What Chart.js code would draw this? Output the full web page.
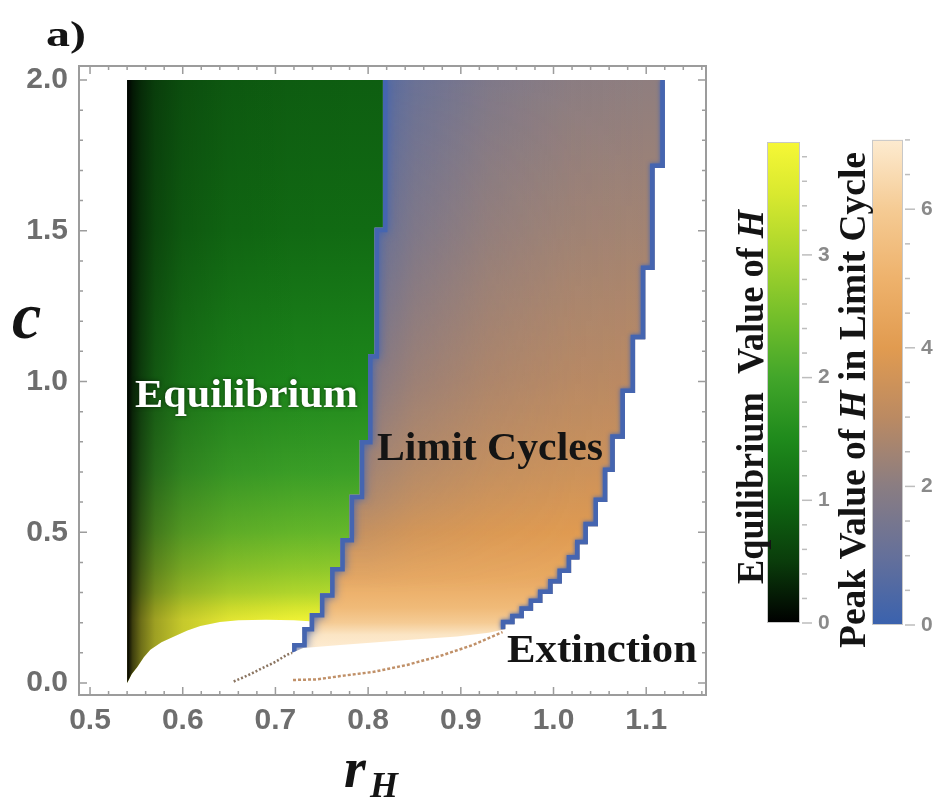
<!DOCTYPE html>
<html>
<head>
<meta charset="utf-8">
<script src="https://cdn.jsdelivr.net/npm/chart.js@4.4.0/dist/chart.umd.min.js"></script>
<style>
  html, body { margin: 0; padding: 0; background: #fff; }
  canvas { display: block; }
</style>
</head>
<body>
<canvas id="chart" width="942" height="804"></canvas>
<script>
// axis ticks
const xTicks = [0.5, 0.6, 0.7, 0.8, 0.9, 1.0, 1.1];
const yTicks = [0.0, 0.5, 1.0, 1.5, 2.0];
const eqTicks = [0, 1, 2, 3];
const peakTicks = [0, 2, 4, 6];

// region limits
const rHMin = 0.54;
const cMax = 2.0;

// equilibrium / limit cycle border (the staircase on the left)
const hopfR = [0.816, 0.816, 0.807, 0.807, 0.800, 0.800, 0.791, 0.791, 0.780, 0.780, 0.770, 0.770,
  0.759, 0.759, 0.748, 0.748, 0.737, 0.737, 0.729, 0.729, 0.718, 0.718];
const hopfC = [2.0, 1.51, 1.51, 1.09, 1.09, 0.806, 0.806, 0.624, 0.624, 0.481, 0.481, 0.385,
  0.385, 0.298, 0.298, 0.232, 0.232, 0.186, 0.186, 0.133, 0.133, 0.10];

// limit cycle / extinction border (the staircase on the right)
const foldR = [1.120, 1.120, 1.109, 1.109, 1.099, 1.099, 1.088, 1.088, 1.077, 1.077, 1.066, 1.066,
  1.058, 1.058, 1.048, 1.048, 1.037, 1.037, 1.028, 1.028, 1.019, 1.019, 1.009, 1.009,
  0.999, 0.999, 0.988, 0.988, 0.978, 0.978, 0.968, 0.968, 0.958, 0.958, 0.948, 0.948];
const foldC = [2.0, 1.708, 1.708, 1.37, 1.37, 1.14, 1.14, 0.962, 0.962, 0.81, 0.81, 0.70,
  0.70, 0.60, 0.60, 0.52, 0.52, 0.46, 0.46, 0.41, 0.41, 0.365, 0.365, 0.33,
  0.33, 0.295, 0.295, 0.265, 0.265, 0.24, 0.24, 0.215, 0.215, 0.195, 0.195, 0.178];

// lower edge of the equilibrium region
const eqBaseR = [0.737, 0.72, 0.69, 0.66, 0.64, 0.619, 0.605, 0.59, 0.577, 0.565, 0.558, 0.551, 0.545, 0.54];
const eqBaseC = [0.205, 0.208, 0.21, 0.208, 0.202, 0.189, 0.174, 0.153, 0.135, 0.11, 0.085, 0.053, 0.03, 0.0];

// lower edge of the limit cycle region
const lcBaseR = [0.93, 0.896, 0.842, 0.77, 0.73, 0.718];
const lcBaseC = [0.167, 0.154, 0.143, 0.126, 0.116, 0.10];

// thin dotted extinction curves
const ext1R = [0.655, 0.67, 0.685, 0.70, 0.712, 0.718];
const ext1C = [0.005, 0.025, 0.048, 0.07, 0.093, 0.10];
const ext2R = [0.719, 0.745, 0.77, 0.806, 0.842, 0.878, 0.913, 0.945];
const ext2C = [0.010, 0.012, 0.023, 0.037, 0.06, 0.09, 0.126, 0.169];

// H value along c inside each region (read via the colour bars)
const eqLevelC = [2.0, 1.5, 1.0, 0.7, 0.5, 0.38, 0.3, 0.25, 0.21, 0.0];
const eqLevelH = [0.9, 1.05, 1.45, 1.9, 2.35, 2.75, 3.1, 3.5, 3.85, 3.92];
const lcLevelC = [2.0, 1.5, 1.0, 0.7, 0.5, 0.35, 0.25, 0.2, 0.16, 0.12];
const lcLevelH = [2.1, 2.5, 3.0, 3.5, 4.0, 4.6, 5.3, 6.0, 6.8, 7.0];

// colour maps
const eqStops = [[0, '#000000'], [0.5, '#0a3c0b'], [1, '#0f6712'], [1.5, '#1f8a1c'], [2, '#42a62a'],
  [2.5, '#74bf2a'], [3, '#a9d52c'], [3.5, '#d9e92f'], [3.92, '#f6f736']];
const peakStops = [[0, '#3a62ae'], [1, '#65709a'], [2, '#8a7d82'], [3, '#bb8a62'], [4, '#e19b50'],
  [5, '#eeb26c'], [6, '#f5cb94'], [7, '#fdebd0']];

const serif = '"Liberation Serif", "DejaVu Serif", serif';
const sans = '"Liberation Sans", Arial, sans-serif';
const tickGrey = '#6e6e6e';
const frameGrey = '#9c9c9c';
const edgeBlue = '#4565b0';

const pts = (rs, cs) => rs.map((r, i) => ({ x: r, y: cs[i] }));
const hopfLine = pts(hopfR, hopfC);
const foldLine = pts(foldR, foldC);
const eqShape = [{ x: rHMin, y: cMax }, ...hopfLine.filter(p => p.y > eqBaseC[0]), ...pts(eqBaseR, eqBaseC)];
const lcShape = [...foldLine, ...pts(lcBaseR, lcBaseC), ...hopfLine.slice().reverse()];

function hex(c) {
  return [1, 3, 5].map(i => parseInt(c.slice(i, i + 2), 16));
}

function colourAt(stops, v) {
  let i = 1;
  while (i < stops.length - 1 && v > stops[i][0]) i++;
  const [v0, c0] = stops[i - 1];
  const [v1, c1] = stops[i];
  const t = Math.min(1, Math.max(0, (v - v0) / (v1 - v0)));
  const a = hex(c0), b = hex(c1);
  return 'rgb(' + a.map((x, k) => Math.round(x + (b[k] - x) * t)).join(',') + ')';
}

// vertical gradient through the c levels
function levelGradient(chart, levelC, levelH, stops) {
  const { ctx, chartArea, scales } = chart;
  if (!chartArea) return 'rgba(0,0,0,0)';
  const y = scales.y;
  const top = y.getPixelForValue(levelC[0]);
  const bot = y.getPixelForValue(levelC[levelC.length - 1]);
  const g = ctx.createLinearGradient(0, top, 0, bot);
  levelC.forEach((c, i) => g.addColorStop((y.getPixelForValue(c) - top) / (bot - top), colourAt(stops, levelH[i])));
  return g;
}

function alongX(ctx, scale, stops, rgb) {
  const x0 = scale.getPixelForValue(stops[0][0]);
  const x1 = scale.getPixelForValue(stops[stops.length - 1][0]);
  const g = ctx.createLinearGradient(x0, 0, x1, 0);
  stops.forEach(([r, a]) => g.addColorStop((scale.getPixelForValue(r) - x0) / (x1 - x0), 'rgba(' + rgb + ',' + a + ')'));
  return g;
}

// 2d tint: horizontal alpha ramp masked by a vertical one
function tintPattern(chart, rgb, across, down) {
  const { chartArea, scales, width, height } = chart;
  if (!chartArea) return 'rgba(0,0,0,0)';
  const off = document.createElement('canvas');
  off.width = width;
  off.height = height;
  const g = off.getContext('2d');
  g.fillStyle = alongX(g, scales.x, across, rgb);
  g.fillRect(0, 0, width, height);
  const y0 = scales.y.getPixelForValue(down[0][0]);
  const y1 = scales.y.getPixelForValue(down[down.length - 1][0]);
  const vg = g.createLinearGradient(0, y0, 0, y1);
  down.forEach(([c, a]) => vg.addColorStop((scales.y.getPixelForValue(c) - y0) / (y1 - y0), 'rgba(0,0,0,' + a + ')'));
  g.globalCompositeOperation = 'destination-in';
  g.fillStyle = vg;
  g.fillRect(0, 0, width, height);
  return chart.ctx.createPattern(off, 'no-repeat');
}

// clip edge lines to the limit cycle region and give them a soft glow
const regionMask = {
  id: 'regionMask',
  beforeDatasetDraw(chart, args) {
    const ds = chart.data.datasets[args.index];
    if (ds.maskTo === undefined) return;
    const points = chart.getDatasetMeta(ds.maskTo).data;
    const ctx = chart.ctx;
    ctx.save();
    ctx.beginPath();
    points.forEach((p, i) => (i ? ctx.lineTo(p.x, p.y) : ctx.moveTo(p.x, p.y)));
    ctx.closePath();
    ctx.clip();
    ctx.shadowColor = ds.borderColor;
    ctx.shadowBlur = ds.glow || 0;
  },
  afterDatasetDraw(chart, args) {
    if (chart.data.datasets[args.index].maskTo !== undefined) chart.ctx.restore();
  }
};

function fitText(ctx, text, x, y, width, font, colour, shadow) {
  ctx.save();
  ctx.font = font;
  ctx.fillStyle = colour;
  ctx.textAlign = 'left';
  ctx.textBaseline = 'alphabetic';
  if (shadow) {
    ctx.shadowColor = shadow;
    ctx.shadowBlur = 4;
  }
  const k = width / ctx.measureText(text).width;
  ctx.translate(x, y);
  ctx.scale(k, 1);
  ctx.fillText(text, 0, 0);
  ctx.restore();
}

function sideLabel(ctx, parts, x, yStart, yEnd) {
  ctx.save();
  let total = 0;
  parts.forEach(p => {
    ctx.font = p.font;
    p.w = ctx.measureText(p.text).width;
    total += p.w;
  });
  ctx.translate(x, yStart);
  ctx.rotate(-Math.PI / 2);
  ctx.scale((yStart - yEnd) / total, 1);
  ctx.fillStyle = '#141414';
  ctx.textBaseline = 'alphabetic';
  let pos = 0;
  parts.forEach(p => {
    ctx.font = p.font;
    ctx.fillText(p.text, pos, 0);
    pos += p.w;
  });
  ctx.restore();
}

function colourBar(ctx, bar, stops, labels, minorStep) {
  const py = v => bar.y0 - v * bar.ppu;
  const g = ctx.createLinearGradient(0, py(0), 0, py(bar.top));
  stops.forEach(([v, c]) => g.addColorStop(Math.min(1, v / bar.top), c));
  ctx.fillStyle = g;
  ctx.fillRect(bar.x, py(bar.top), bar.w, bar.top * bar.ppu);
  ctx.strokeStyle = '#c8c8c8';
  ctx.lineWidth = 1;
  ctx.strokeRect(bar.x + 0.5, py(bar.top) + 0.5, bar.w - 1, bar.top * bar.ppu - 1);
  ctx.strokeStyle = '#bdbdbd';
  ctx.lineWidth = 1.5;
  const n = Math.floor(bar.top / minorStep + 1e-6);
  for (let i = 0; i <= n; i++) {
    const v = i * minorStep;
    const major = labels.some(l => Math.abs(l - v) < 1e-6);
    ctx.beginPath();
    ctx.moveTo(bar.x + bar.w + 2, py(v));
    ctx.lineTo(bar.x + bar.w + (major ? 12 : 7), py(v));
    ctx.stroke();
  }
  ctx.fillStyle = '#8a8a8a';
  ctx.font = 'bold 21px ' + sans;
  ctx.textAlign = 'left';
  ctx.textBaseline = 'middle';
  labels.forEach(l => ctx.fillText(String(l), bar.x + bar.w + 18, py(l)));
}

const frameAndLabels = {
  id: 'frameAndLabels',
  afterDraw(chart) {
    const { ctx, chartArea: a, scales: { x, y } } = chart;
    ctx.save();
    ctx.strokeStyle = frameGrey;
    ctx.lineWidth = 1.5;
    for (let i = 24; i <= 58; i++) {
      const v = i / 50;
      if (v < x.min || v > x.max) continue;
      const px = x.getPixelForValue(v);
      const len = i % 5 === 0 ? 8 : 4;
      ctx.beginPath();
      ctx.moveTo(px, a.bottom); ctx.lineTo(px, a.bottom - len);
      ctx.moveTo(px, a.top); ctx.lineTo(px, a.top + len);
      ctx.stroke();
    }
    for (let i = 0; i <= 20; i++) {
      const v = i / 10;
      const py = y.getPixelForValue(v);
      const len = i % 5 === 0 ? 8 : 4;
      ctx.beginPath();
      ctx.moveTo(a.left, py); ctx.lineTo(a.left + len, py);
      ctx.moveTo(a.right, py); ctx.lineTo(a.right - len, py);
      ctx.stroke();
    }
    ctx.lineWidth = 2;
    ctx.strokeRect(a.left, a.top, a.right - a.left, a.bottom - a.top);
    ctx.restore();

    fitText(ctx, 'Equilibrium', 135, 407, 223, 'bold 41px ' + serif, '#ffffff', 'rgba(0,0,0,0.55)');
    fitText(ctx, 'Limit Cycles', 377, 460, 226, 'bold 41px ' + serif, '#141414');
    fitText(ctx, 'Extinction', 507, 662, 190, 'bold 41px ' + serif, '#141414');
    fitText(ctx, 'a)', 46, 46, 40, 'bold 36px ' + serif, '#141414');

    ctx.save();
    ctx.fillStyle = '#141414';
    ctx.textBaseline = 'alphabetic';
    ctx.font = 'bold italic 66px ' + serif;
    ctx.fillText('c', 12, 338);
    ctx.font = 'bold italic 56px ' + serif;
    ctx.fillText('r', 344, 787);
    ctx.font = 'bold italic 36px ' + serif;
    ctx.fillText('H', 370, 797);
    ctx.restore();

    colourBar(ctx, { x: 767, w: 33, y0: 623, ppu: 122.7, top: 3.92 }, eqStops, eqTicks, 0.2);
    colourBar(ctx, { x: 872, w: 31, y0: 625, ppu: 69.3, top: 7 }, peakStops, peakTicks, 0.5);

    sideLabel(ctx, [
      { text: 'Equilibrium  Value of ', font: 'bold 37px ' + serif },
      { text: 'H', font: 'bold italic 37px ' + serif }
    ], 763, 584, 210);
    sideLabel(ctx, [
      { text: 'Peak Value of ', font: 'bold 37px ' + serif },
      { text: 'H', font: 'bold italic 37px ' + serif },
      { text: ' in Limit Cycle', font: 'bold 37px ' + serif }
    ], 865, 648, 152);
  }
};

const tickFont = { family: sans, size: 30, weight: 'bold' };
const none = 'rgba(0,0,0,0)';

const chart = new Chart(document.getElementById('chart'), {
  type: 'line',
  data: {
    datasets: [
      {
        data: eqShape,
        fill: 'shape',
        borderWidth: 0,
        borderColor: none,
        backgroundColor: c => levelGradient(c.chart, eqLevelC, eqLevelH, eqStops),
        order: 10
      },
      {
        data: eqShape,
        fill: 'shape',
        borderWidth: 0,
        borderColor: none,
        backgroundColor: c => c.chart.chartArea ? alongX(c.chart.ctx, c.chart.scales.x,
          [[0.54, 1], [0.546, 0.75], [0.555, 0.55], [0.57, 0.35], [0.6, 0.18], [0.65, 0.07], [0.72, 0.02], [0.8, 0]],
          '0,0,0') : none,
        order: 9
      },
      {
        data: lcShape,
        fill: 'shape',
        borderWidth: 0,
        borderColor: none,
        backgroundColor: c => levelGradient(c.chart, lcLevelC, lcLevelH, peakStops),
        order: 8
      },
      {
        data: lcShape,
        fill: 'shape',
        borderWidth: 0,
        borderColor: none,
        backgroundColor: c => tintPattern(c.chart, '62,98,176',
          [[0.80, 0.8], [0.85, 0.45], [0.93, 0.2], [1.02, 0.05], [1.1, 0]],
          [[2.0, 1], [1.5, 0.8], [1.0, 0.55], [0.6, 0.3], [0.4, 0.1], [0.3, 0]]),
        order: 7
      },
      {
        data: hopfLine,
        borderColor: edgeBlue,
        borderWidth: 9,
        borderJoinStyle: 'miter',
        maskTo: 2,
        glow: 10,
        order: 6
      },
      {
        data: foldLine,
        borderColor: edgeBlue,
        borderWidth: 9,
        borderJoinStyle: 'miter',
        maskTo: 2,
        glow: 4,
        order: 5
      },
      {
        data: pts(ext1R, ext1C),
        borderColor: '#8a7460',
        borderWidth: 2.5,
        borderDash: [2, 2],
        order: 4
      },
      {
        data: pts(ext2R, ext2C),
        borderColor: '#c09068',
        borderWidth: 2.5,
        borderDash: [3, 2],
        order: 3
      }
    ]
  },
  options: {
    responsive: false,
    animation: false,
    events: [],
    layout: { padding: { top: 66, right: 236, left: 0, bottom: 0 } },
    elements: { point: { radius: 0 }, line: { tension: 0 } },
    plugins: { legend: { display: false }, tooltip: { enabled: false } },
    scales: {
      x: {
        type: 'linear',
        min: 0.4881,
        max: 1.1645,
        afterBuildTicks: s => { s.ticks = xTicks.map(v => ({ value: v })); },
        afterFit: s => { s.height = 109; },
        grid: { display: false, drawTicks: false },
        border: { display: false },
        ticks: { padding: 8, font: tickFont, color: tickGrey, maxRotation: 0, autoSkip: false,
          callback: v => Number(v).toFixed(1) }
      },
      y: {
        type: 'linear',
        min: -0.0398,
        max: 2.0464,
        afterBuildTicks: s => { s.ticks = yTicks.map(v => ({ value: v })); },
        afterFit: s => { s.width = 79; },
        grid: { display: false, drawTicks: false },
        border: { display: false },
        ticks: { padding: 11, font: tickFont, color: tickGrey, autoSkip: false,
          callback: v => Number(v).toFixed(1) }
      }
    }
  },
  plugins: [regionMask, frameAndLabels]
});
</script>
</body>
</html>
